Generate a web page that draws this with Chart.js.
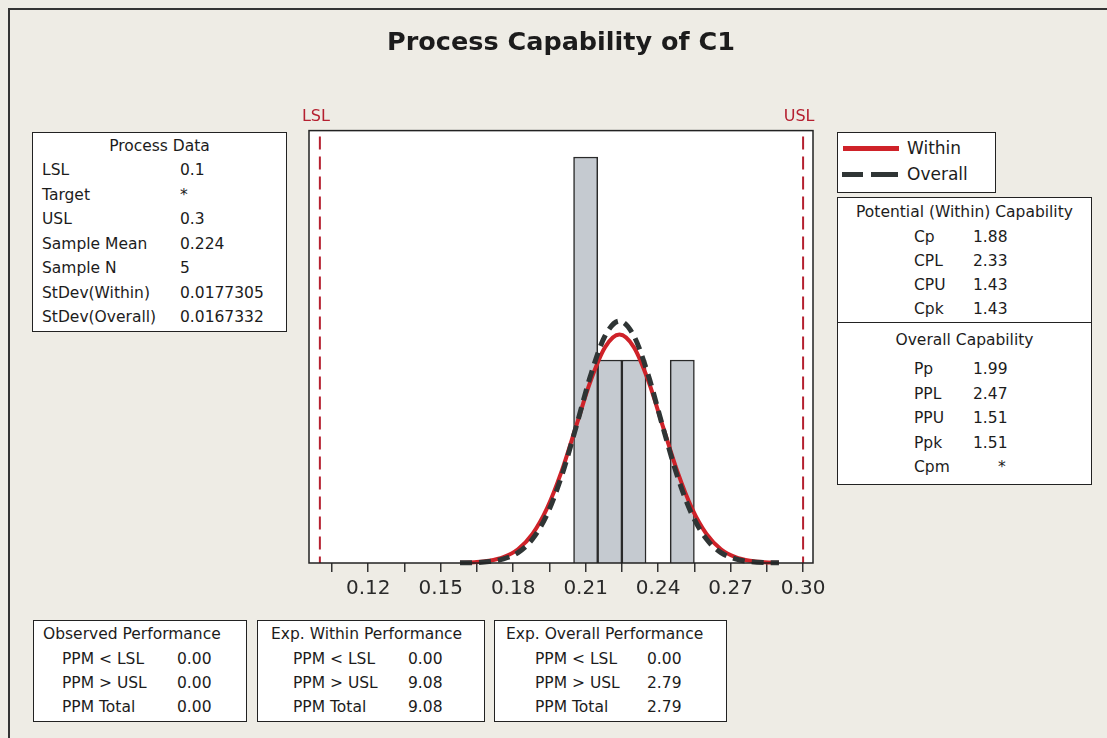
<!DOCTYPE html>
<html>
<head>
<meta charset="utf-8">
<script src="https://cdn.jsdelivr.net/npm/chart.js@4.4.1/dist/chart.umd.min.js"></script>
<style>
    html, body { margin: 0; padding: 0; background: #eeece5; }
    #wrap { position: relative; width: 1107px; height: 738px; overflow: hidden; font-family: "DejaVu Sans", Verdana, sans-serif; color: #1c1c1c; }
    #frame { position: absolute; left: 8px; top: 8px; width: 1300px; height: 900px; border-left: 2px solid #333; border-top: 2px solid #333; }
    canvas { position: absolute; left: 0; top: 0; }
    .box { position: absolute; background: #fff; border: 1.5px solid #222; box-sizing: border-box; }
    .txt { position: absolute; height: 22px; line-height: 22px; white-space: nowrap; }
</style>
</head>
<body>
<div id="wrap">
    <div id="frame"></div>
    <canvas id="chart" width="1107" height="738"></canvas>
</div>
<script>
// histogram bins
const binCenters = [0.21, 0.22, 0.23, 0.24, 0.25];
const binCounts = [2, 1, 1, 0, 1];

// fitted curves (in count units)
const curveX = [0.158, 0.164, 0.170, 0.176, 0.182, 0.188, 0.194, 0.200, 0.206, 0.212, 0.218, 0.224,
    0.230, 0.236, 0.242, 0.248, 0.254, 0.260, 0.266, 0.272, 0.278, 0.284, 0.290];
const withinFit = [0.001, 0.004, 0.011, 0.029, 0.068, 0.143, 0.269, 0.450, 0.672, 0.895, 1.062, 1.125,
    1.062, 0.895, 0.672, 0.450, 0.269, 0.143, 0.068, 0.029, 0.011, 0.004, 0.001];
const overallFit = [0.001, 0.002, 0.007, 0.020, 0.051, 0.118, 0.239, 0.426, 0.668, 0.922, 1.118, 1.192,
    1.118, 0.922, 0.668, 0.426, 0.239, 0.118, 0.051, 0.020, 0.007, 0.002, 0.001];

// axis
const axisTicks = [0.105, 0.12, 0.135, 0.15, 0.165, 0.18, 0.195, 0.21, 0.225, 0.24, 0.255, 0.27, 0.285, 0.30];
const axisLabels = [0.12, 0.15, 0.18, 0.21, 0.24, 0.27, 0.30];
const specNames = ['LSL', 'USL'];
const specValues = [0.1, 0.3];

// side tables
const processLabels = ['LSL', 'Target', 'USL', 'Sample Mean', 'Sample N', 'StDev(Within)', 'StDev(Overall)'];
const processValues = ['0.1', '*', '0.3', '0.224', '5', '0.0177305', '0.0167332'];
const withinLabels = ['Cp', 'CPL', 'CPU', 'Cpk'];
const withinValues = ['1.88', '2.33', '1.43', '1.43'];
const overallLabels = ['Pp', 'PPL', 'PPU', 'Ppk', 'Cpm'];
const overallValues = ['1.99', '2.47', '1.51', '1.51', '*'];
const perfLabels = ['PPM < LSL', 'PPM > USL', 'PPM Total'];
const observedPPM = ['0.00', '0.00', '0.00'];
const expWithinPPM = ['0.00', '9.08', '9.08'];
const expOverallPPM = ['0.00', '2.79', '2.79'];

const WRAP = document.getElementById('wrap');

function addBox(left, top, width, height) {
    const d = document.createElement('div');
    d.className = 'box';
    Object.assign(d.style, { left: left + 'px', top: top + 'px', width: width + 'px', height: height + 'px' });
    WRAP.appendChild(d);
    return d;
}

function addText(parent, text, x, yc, size, align) {
    const s = document.createElement('div');
    s.className = 'txt';
    s.textContent = text;
    s.style.top = (yc - 11) + 'px';
    s.style.fontSize = size + 'px';
    if (align === 'center') {
        s.style.left = '0';
        s.style.width = '100%';
        s.style.textAlign = 'center';
    } else {
        s.style.left = x + 'px';
    }
    parent.appendChild(s);
    return s;
}

// Process Data
const PD = addBox(32, 132, 255, 200);
addText(PD, 'Process Data', 0, 13, 15.5, 'center');
processLabels.forEach((t, i) => {
    addText(PD, t, 9, 37 + i * 24.5, 15.5);
    addText(PD, processValues[i], 147, 37 + i * 24.5, 15.5);
});

// legend
const LG = addBox(837, 132, 159, 61);
const redLine = document.createElement('div');
Object.assign(redLine.style, { position: 'absolute', left: '5px', top: '13px', width: '56px', height: '5px', background: '#cf2229' });
LG.appendChild(redLine);
[[4, 21], [33, 27]].forEach(([l, w]) => {
    const d = document.createElement('div');
    Object.assign(d.style, { position: 'absolute', left: l + 'px', top: '39px', width: w + 'px', height: '5px', background: '#2f3535' });
    LG.appendChild(d);
});
addText(LG, 'Within', 69, 15, 17);
addText(LG, 'Overall', 69, 41, 17);

// capability
const CB = addBox(837, 197, 255, 288);
addText(CB, 'Potential (Within) Capability', 0, 14, 15.5, 'center');
withinLabels.forEach((t, i) => {
    addText(CB, t, 76, 39 + i * 24, 15.5);
    addText(CB, withinValues[i], 135, 39 + i * 24, 15.5);
});
const DIV = document.createElement('div');
Object.assign(DIV.style, { position: 'absolute', left: '0', top: '124px', width: '100%', height: '0', borderTop: '1.5px solid #222' });
CB.appendChild(DIV);
addText(CB, 'Overall Capability', 0, 142, 15.5, 'center');
overallLabels.forEach((t, i) => {
    addText(CB, t, 76, 171 + i * 24.5, 15.5);
    addText(CB, overallValues[i], overallValues[i] === '*' ? 160 : 135, 171 + i * 24.5, 15.5);
});

// performance boxes
[
    [33, 214, 'Observed Performance', 9, 28, 143, observedPPM],
    [257, 228, 'Exp. Within Performance', 13, 35, 150, expWithinPPM],
    [494, 233, 'Exp. Overall Performance', 11, 40, 152, expOverallPPM]
].forEach(([left, width, head, hx, lx, vx, vals]) => {
    const b = addBox(left, 620, width, 102);
    addText(b, head, hx, 13, 15.5);
    perfLabels.forEach((t, i) => {
        addText(b, t, lx, 38 + i * 24, 15.5);
        addText(b, vals[i], vx, 38 + i * 24, 15.5);
    });
});

const plotFrame = {
    id: 'plotFrame',
    beforeDatasetsDraw(chart) {
        const { ctx, chartArea: a } = chart;
        ctx.save();
        ctx.fillStyle = '#ffffff';
        ctx.fillRect(a.left, a.top, a.right - a.left, a.bottom - a.top);
        ctx.restore();
    },
    afterDatasetsDraw(chart) {
        const { ctx, chartArea: a } = chart;
        const X = chart.scales.x;
        ctx.save();
        ctx.strokeStyle = '#b52030';
        ctx.lineWidth = 2;
        ctx.setLineDash([13, 7]);
        ctx.fillStyle = '#b52030';
        ctx.font = '16px "DejaVu Sans"';
        ctx.textAlign = 'center';
        ctx.textBaseline = 'middle';
        specValues.forEach((v, i) => {
            const px = X.getPixelForValue(v);
            ctx.beginPath();
            ctx.moveTo(px, a.top + 6);
            ctx.lineTo(px, a.bottom);
            ctx.stroke();
            ctx.fillText(specNames[i], px - 4, a.top - 14);
        });
        ctx.setLineDash([]);
        ctx.strokeStyle = '#222';
        ctx.lineWidth = 1.5;
        ctx.strokeRect(a.left, a.top, a.right - a.left, a.bottom - a.top);
        ctx.restore();
    }
};

const CTX = document.getElementById('chart').getContext('2d');
const CHART = new Chart(CTX, {
    type: 'bar',
    data: {
        datasets: [
            {
                type: 'line',
                label: 'Overall',
                data: curveX.map((x, i) => ({ x: x, y: overallFit[i] })),
                borderColor: '#2f3535',
                borderWidth: 5,
                borderDash: [12, 7],
                pointRadius: 0,
                cubicInterpolationMode: 'monotone',
                clip: 10,
                order: 1
            },
            {
                type: 'line',
                label: 'Within',
                data: curveX.map((x, i) => ({ x: x, y: withinFit[i] })),
                borderColor: '#cf2229',
                borderWidth: 4,
                pointRadius: 0,
                cubicInterpolationMode: 'monotone',
                clip: 10,
                order: 2
            },
            {
                label: 'C1',
                data: binCenters.map((x, i) => ({ x: x, y: binCounts[i] })),
                backgroundColor: '#c5cad0',
                borderColor: '#2a2a2a',
                borderWidth: 1.5,
                borderSkipped: 'start',
                barPercentage: 1,
                categoryPercentage: 1,
                grouped: false,
                order: 3
            }
        ]
    },
    options: {
        responsive: false,
        animation: false,
        layout: { padding: { left: 309, right: 294, top: 0, bottom: 0 } },
        plugins: {
            legend: { display: false },
            tooltip: { enabled: false },
            title: {
                display: true,
                text: 'Process Capability of C1',
                color: '#1c1c1c',
                font: { family: 'DejaVu Sans', size: 25.5, weight: 'bold', lineHeight: 1.2 },
                padding: { top: 28, bottom: 72 }
            }
        },
        scales: {
            x: {
                type: 'linear',
                min: 0.0955,
                max: 0.3041,
                offset: false,
                afterBuildTicks(scale) {
                    scale.ticks = axisTicks.map(v => ({ value: v }));
                },
                afterFit(scale) {
                    scale.height = 175;
                },
                grid: { display: true, offset: false, drawOnChartArea: false, drawTicks: true, tickLength: 9, color: '#333', lineWidth: 1.5 },
                border: { display: false },
                ticks: {
                    autoSkip: false,
                    maxRotation: 0,
                    padding: 5,
                    color: '#2a2a2a',
                    font: { family: 'DejaVu Sans', size: 20 },
                    callback: (v) => axisLabels.some(l => Math.abs(l - v) < 1e-9) ? v.toFixed(2) : ''
                }
            },
            y: {
                display: false,
                min: 0,
                max: 2.13
            }
        }
    },
    plugins: [plotFrame]
});
</script>
</body>
</html>
